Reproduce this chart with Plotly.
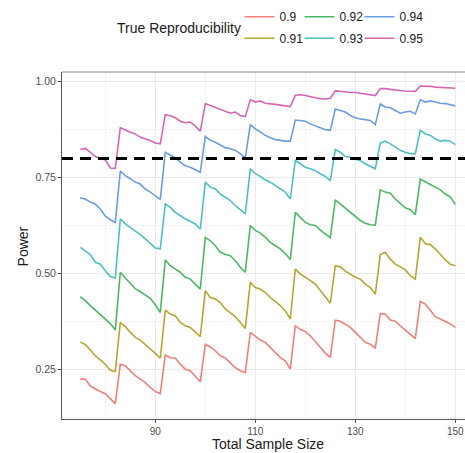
import plotly.graph_objects as go

sample_size = list(range(75, 151))

reproducibility = ["0.9", "0.91", "0.92", "0.93", "0.94", "0.95"]

power_090 = [0.224, 0.224, 0.206, 0.198, 0.192, 0.186, 0.172, 0.160,
             0.263, 0.259, 0.246, 0.233, 0.224, 0.215, 0.202, 0.192, 0.186,
             0.287, 0.280, 0.279, 0.263, 0.250, 0.246, 0.230, 0.217,
             0.315, 0.308, 0.298, 0.285, 0.279, 0.267, 0.254, 0.246, 0.241,
             0.346, 0.337, 0.326, 0.320, 0.307, 0.294, 0.280, 0.272, 0.250,
             0.363, 0.354, 0.348, 0.337, 0.322, 0.307, 0.292, 0.281,
             0.378, 0.375, 0.368, 0.359, 0.346, 0.333, 0.320, 0.315, 0.305,
             0.395, 0.394, 0.378, 0.375, 0.363, 0.352, 0.342, 0.330,
             0.427, 0.420, 0.404, 0.387, 0.381, 0.375, 0.368, 0.359]

power_091 = [0.321, 0.314, 0.300, 0.285, 0.274, 0.263, 0.247, 0.244,
             0.372, 0.361, 0.346, 0.333, 0.326, 0.315, 0.302, 0.291, 0.279,
             0.404, 0.394, 0.389, 0.372, 0.363, 0.359, 0.346, 0.335,
             0.455, 0.437, 0.433, 0.424, 0.407, 0.398, 0.387, 0.372, 0.356,
             0.477, 0.463, 0.459, 0.450, 0.437, 0.427, 0.416, 0.402, 0.381,
             0.511, 0.498, 0.490, 0.481, 0.472, 0.455, 0.437, 0.422,
             0.520, 0.517, 0.506, 0.498, 0.490, 0.485, 0.472, 0.463, 0.446,
             0.549, 0.555, 0.537, 0.524, 0.517, 0.509, 0.494, 0.485,
             0.594, 0.577, 0.575, 0.564, 0.550, 0.535, 0.524, 0.520]

power_092 = [0.439, 0.429, 0.416, 0.404, 0.394, 0.381, 0.369, 0.352,
             0.503, 0.488, 0.474, 0.460, 0.452, 0.444, 0.435, 0.418, 0.398,
             0.535, 0.520, 0.511, 0.503, 0.490, 0.485, 0.472, 0.459,
             0.594, 0.585, 0.572, 0.555, 0.550, 0.546, 0.533, 0.516, 0.503,
             0.625, 0.612, 0.605, 0.594, 0.581, 0.572, 0.564, 0.552, 0.536,
             0.659, 0.646, 0.633, 0.627, 0.625, 0.613, 0.604, 0.593,
             0.692, 0.681, 0.671, 0.659, 0.648, 0.638, 0.631, 0.627, 0.626,
             0.718, 0.712, 0.709, 0.694, 0.683, 0.671, 0.666, 0.653,
             0.746, 0.738, 0.732, 0.725, 0.718, 0.707, 0.699, 0.680]

power_093 = [0.568, 0.559, 0.549, 0.529, 0.524, 0.507, 0.492, 0.488,
             0.642, 0.629, 0.620, 0.611, 0.601, 0.590, 0.577, 0.566, 0.564,
             0.681, 0.672, 0.659, 0.651, 0.642, 0.636, 0.629, 0.615,
             0.738, 0.725, 0.720, 0.707, 0.699, 0.690, 0.677, 0.666, 0.655,
             0.773, 0.760, 0.753, 0.744, 0.738, 0.729, 0.720, 0.712, 0.694,
             0.795, 0.786, 0.777, 0.773, 0.768, 0.760, 0.753, 0.742,
             0.823, 0.816, 0.805, 0.803, 0.799, 0.794, 0.786, 0.779, 0.773,
             0.840, 0.845, 0.838, 0.829, 0.821, 0.816, 0.812, 0.812,
             0.873, 0.864, 0.860, 0.851, 0.845, 0.847, 0.845, 0.836]

power_094 = [0.697, 0.694, 0.686, 0.681, 0.668, 0.649, 0.640, 0.633,
             0.767, 0.755, 0.747, 0.738, 0.733, 0.720, 0.712, 0.703, 0.693,
             0.816, 0.808, 0.801, 0.790, 0.781, 0.777, 0.770, 0.764,
             0.857, 0.847, 0.842, 0.834, 0.828, 0.825, 0.821, 0.812, 0.801,
             0.888, 0.877, 0.869, 0.860, 0.854, 0.849, 0.847, 0.845, 0.845,
             0.900, 0.899, 0.897, 0.890, 0.886, 0.880, 0.875, 0.873,
             0.929, 0.925, 0.921, 0.912, 0.906, 0.903, 0.901, 0.899, 0.888,
             0.942, 0.934, 0.932, 0.925, 0.918, 0.921, 0.923, 0.916,
             0.953, 0.947, 0.950, 0.947, 0.944, 0.943, 0.940, 0.937]

power_095 = [0.824, 0.826, 0.816, 0.805, 0.800, 0.796, 0.775, 0.774,
             0.880, 0.873, 0.868, 0.864, 0.855, 0.851, 0.847, 0.840, 0.838,
             0.914, 0.911, 0.906, 0.897, 0.893, 0.895, 0.884, 0.871,
             0.943, 0.938, 0.934, 0.929, 0.925, 0.918, 0.921, 0.912, 0.909,
             0.953, 0.947, 0.950, 0.944, 0.943, 0.941, 0.939, 0.937, 0.935,
             0.965, 0.966, 0.964, 0.960, 0.958, 0.956, 0.955, 0.957,
             0.976, 0.975, 0.973, 0.972, 0.972, 0.970, 0.969, 0.967, 0.964,
             0.982, 0.982, 0.980, 0.978, 0.977, 0.976, 0.975, 0.975,
             0.989, 0.989, 0.988, 0.986, 0.985, 0.984, 0.984, 0.983]

series = [power_090, power_091, power_092, power_093, power_094, power_095]
colors = ["#F0807A", "#B8A535", "#4DB866", "#4CC0C5", "#6C9DE0", "#D467B5"]

target_power = 0.80

x_ticks = [90, 110, 130, 150]
y_ticks = [0.25, 0.50, 0.75, 1.00]

FONT = "Liberation Sans, Arial, Helvetica, sans-serif"

# legend slots: (column text start px, row centre px)
col_text_px = [279.5, 339.5, 399.5]
row_px = [16.7, 38.3]
W, H = 465, 453
ML, MR, MT, MB = 62, 0, 72, 34
PW = W - ML - MR
PH = H - MT - MB

fig = go.Figure()
legend_layouts = {}
for i, (lab, vals, col) in enumerate(zip(reproducibility, series, colors)):
    lname = "legend" if i == 0 else f"legend{i+1}"
    c = i // 2
    r = i % 2
    left_px = col_text_px[c] - 40
    lx = (left_px - ML) / PW
    ly = (H - MB - row_px[r]) / PH
    legend_layouts[lname] = dict(
        x=lx, y=ly, xanchor="left", yanchor="middle",
        xref="paper", yref="paper",
        bgcolor="rgba(0,0,0,0)", borderwidth=0,
        font=dict(family=FONT, size=12, color="#1A1A1A"),
        itemwidth=30,
    )
    fig.add_trace(go.Scatter(
        x=sample_size, y=vals, mode="lines", name=lab,
        line=dict(color=col, width=1.6),
        legend=lname, showlegend=True,
    ))

fig.add_shape(type="line", xref="x domain", yref="y", x0=0, x1=1,
              y0=target_power, y1=target_power,
              line=dict(color="black", width=3, dash="11px,7px"))

# top panel border
fig.add_shape(type="line", xref="paper", yref="paper", x0=0, x1=1, y0=1, y1=1,
              line=dict(color="#8A8A8A", width=1))

fig.add_annotation(text="True Reproducibility", xref="paper", yref="paper",
                   x=(243 - ML) / PW, y=(H - MB - 28.3) / PH,
                   xanchor="right", yanchor="middle", showarrow=False,
                   font=dict(family=FONT, size=14, color="#1A1A1A"))
fig.add_annotation(text="Power", xref="paper", yref="paper",
                   x=(22.7 - ML) / PW, y=(H - MB - 246.7) / PH,
                   xanchor="center", yanchor="middle", textangle=-90,
                   showarrow=False,
                   font=dict(family=FONT, size=14, color="#1A1A1A"))
fig.add_annotation(text="Total Sample Size", xref="paper", yref="paper",
                   x=(267.5 - ML) / PW, y=(H - MB - 452.5) / PH,
                   xanchor="center", yanchor="bottom", showarrow=False,
                   borderpad=0,
                   font=dict(family=FONT, size=14, color="#1A1A1A"))

fig.update_layout(
    width=W, height=H,
    margin=dict(l=ML, r=MR, t=MT, b=MB, pad=0, autoexpand=False),
    paper_bgcolor="white", plot_bgcolor="white",
    font=dict(family=FONT),
    **legend_layouts,
)

fig.update_xaxes(
    range=[90 + (ML - 155.3) / 5, 90 + (W - MR - 155.3) / 5],
    tickvals=x_ticks, ticks="outside", ticklen=3, tickcolor="#555555",
    tickfont=dict(family=FONT, size=10, color="#4D4D4D"),
    showline=True, linecolor="#555555", linewidth=1,
    showgrid=True, gridcolor="#EBEBEB", gridwidth=1,
    minor=dict(tick0=80, dtick=10, showgrid=True, gridcolor="#F3F3F3", gridwidth=0.6),
    zeroline=False, automargin=False,
)
fig.update_yaxes(
    range=[0.120, 1.0254],
    tickvals=y_ticks, tickformat=".2f", ticks="outside", ticklen=3,
    tickcolor="#555555",
    tickfont=dict(family=FONT, size=10.5, color="#4D4D4D"),
    showline=True, linecolor="#555555", linewidth=1,
    showgrid=True, gridcolor="#EBEBEB", gridwidth=1,
    minor=dict(tick0=0, dtick=0.125, showgrid=True, gridcolor="#F3F3F3", gridwidth=0.6),
    zeroline=False, automargin=False,
)

fig.write_html(
    "out.html",
    config={"displayModeBar": False},
    post_script="document.body.style.margin='0';document.body.style.padding='0';",
)
